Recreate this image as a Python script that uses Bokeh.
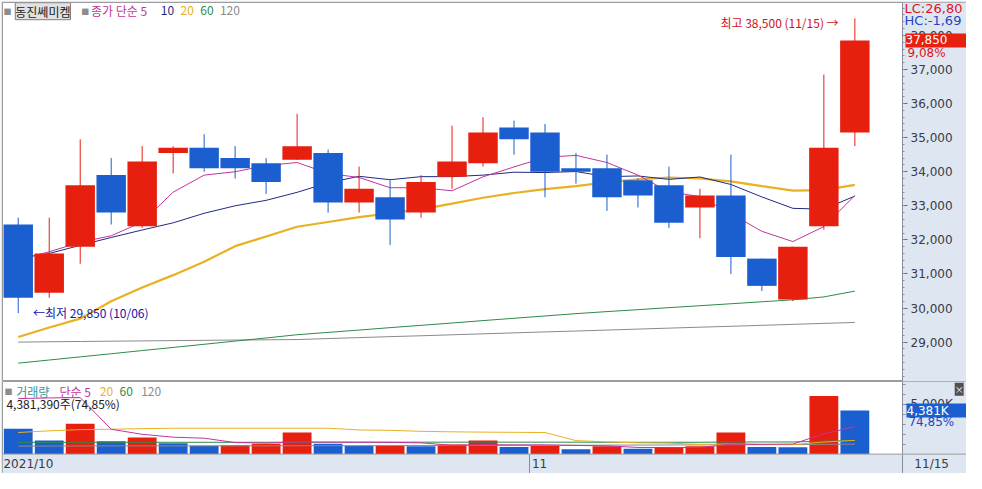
from bokeh.plotting import figure
from bokeh.models import (Range1d, FixedTicker, NumeralTickFormatter, Label, ColumnDataSource,
                          BoxAnnotation, Span, LinearAxis)
from bokeh.layouts import column
from bokeh.embed import file_html
from bokeh.resources import INLINE

# ---------------- data ----------------
DATES = ["10/06", "10/07", "10/08", "10/12", "10/13", "10/14", "10/15", "10/18", "10/19", "10/20",
         "10/21", "10/22", "10/25", "10/26", "10/27", "10/28", "10/29", "11/01", "11/02", "11/03",
         "11/04", "11/05", "11/08", "11/09", "11/10", "11/11", "11/12", "11/15"]
OPEN = [32450, 30450, 31800, 33900, 32400, 34550, 34700, 34400, 34250, 34350,
        34550, 33100, 33250, 32800, 33850, 34250, 35300, 35150, 34100, 34100,
        33750, 33600, 32950, 33300, 31450, 30250, 32400, 35150]
HIGH = [32650, 32650, 34950, 34400, 34750, 34750, 35100, 34750, 34400, 35700,
        34650, 34150, 33750, 33900, 35350, 35600, 35500, 35400, 34550, 34500,
        33800, 34150, 33500, 34500, 31450, 31800, 36850, 38500]
LOW = [29850, 30300, 31300, 32450, 32350, 33950, 34000, 33800, 33350, 34350,
       32800, 32800, 31850, 32650, 33500, 34150, 34500, 33250, 33650, 32850,
       32950, 32350, 32050, 31000, 30500, 30200, 32300, 34750]
CLOSE = [30300, 31600, 33600, 32800, 34300, 34700, 34100, 34100, 33700, 34750,
         33100, 33500, 32600, 33700, 34300, 35150, 34950, 34000, 34000, 33250,
         33300, 32500, 33300, 31500, 30650, 31800, 34700, 37850]
VOLUME = [2560000, 1360000, 3050000, 1300000, 1680000, 1100000, 850000, 880000, 1040000, 2170000,
          1040000, 810000, 820000, 800000, 970000, 1360000, 710000, 810000, 490000, 780000,
          550000, 710000, 780000, 2170000, 710000, 700000, 5853500, 4381390]

MA5 = [31420, 31650, 31930, 32120, 32520, 33400, 33900, 34000, 34180, 34270,
       33950, 33830, 33530, 33530, 33440, 33850, 34140, 34420, 34480, 34270,
       33900, 33410, 33270, 32770, 32250, 31950, 32390, 33300]
MA10 = [31460, 31600, 31840, 32070, 32290, 32500, 32780, 33000, 33160, 33395,
        33675, 33865, 33765, 33855, 33855, 33900, 33985, 33975, 34005, 33855,
        33875, 33775, 33845, 33625, 33260, 32925, 32900, 33285]
MA20 = [29150, 29430, 29690, 30200, 30600, 30965, 31360, 31815, 32100, 32385,
        32525, 32665, 32780, 32895, 33065, 33235, 33375, 33490, 33575, 33690,
        33775, 33830, 33800, 33715, 33575, 33445, 33460, 33615]
MA60 = [28383, 28474, 28567, 28658, 28752, 28843, 28936, 29030, 29121, 29217,
        29285, 29353, 29424, 29492, 29560, 29631, 29699, 29767, 29835, 29895,
        29952, 30011, 30068, 30125, 30184, 30241, 30326, 30496]
MA120 = [28999, 29010, 29018, 29027, 29035, 29044, 29052, 29061, 29067, 29075,
         29104, 29132, 29160, 29186, 29214, 29243, 29271, 29299, 29325, 29353,
         29382, 29410, 29438, 29464, 29492, 29521, 29549, 29577]

VOL_MA5 = [5580000, 5650000, 5680000, 2500000, 1990000, 1700000, 1600000, 1160000, 1110000, 1210000,
           1200000, 1190000, 1180000, 1130000, 890000, 950000, 930000, 930000, 870000, 830000,
           670000, 670000, 660000, 1000000, 980000, 1010000, 2040000, 2760000]
VOL_MA20 = [2170000, 2340000, 2460000, 2500000, 2560000, 2600000, 2600000, 2600000, 2600000, 2600000,
            2600000, 2430000, 2390000, 2290000, 2240000, 2210000, 2190000, 2170000, 1360000, 1230000,
            1130000, 1100000, 980000, 1030000, 980000, 960000, 1210000, 1380000]
VOL_MA60 = [1180000, 1180000, 1190000, 1190000, 1190000, 1190000, 1190000, 1190000, 1190000, 1200000,
            1200000, 1200000, 1200000, 1200000, 1200000, 1200000, 1200000, 1200000, 1200000, 1190000,
            1190000, 1190000, 1190000, 1220000, 1220000, 1220000, 1300000, 1360000]
VOL_MA120 = [810000, 810000, 815000, 820000, 820000, 825000, 830000, 830000, 835000, 840000,
             845000, 850000, 855000, 860000, 865000, 870000, 875000, 880000, 890000, 900000,
             910000, 920000, 930000, 940000, 950000, 960000, 980000, 1000000]

PRICE_TICKS = [29000, 30000, 31000, 32000, 33000, 34000, 35000, 36000, 37000, 38000]
PRICE_MINOR = list(range(27800, 39000, 200))
VOL_TICKS = [5000000]
VOL_MINOR = [1000000, 2000000, 3000000, 4000000, 5000000, 6000000, 7000000]

STOCK = "동진쎄미켐"
CHANGE_TXT = "9,08%"
LC_TXT = "LC:26,80"
HC_TXT = "HC:-1,69"
HIGH_TXT = "최고 38,500 (11/15) →"
LOW_TXT = "←최저 29,850 (10/06)"
VOL_TXT = "4,381,390주(74,85%)"
VOL_BOX_TXT = "4,381K"
VOL_PCT_TXT = "74,85%"

# ---------------- styles / layout ----------------
FONT = "Noto Sans CJK KR"
NUM_FONT = "DejaVu Sans"
UP = "#e61f0e"
DOWN = "#1b5ecf"
C5 = "#c2349e"
C10 = "#1f2a80"
C20 = "#eab020"
C60 = "#2e8b4a"
C120 = "#8a8a8a"
AXIS_BG = "#dde6f1"
FRAME_LINE = "#9c9c9c"
TICK_TXT = "#3a3a48"

W = 966
LEFT = 2
FRAME_W = W - LEFT
H1, H2 = 381, 92
KX = FRAME_W / 980.0
KY1 = (H1 - 2) / 392.0
KY2 = H2 / 95.0
STEP = 31.5          # reference pixels per candle
FIRST = 18.0         # reference x of first candle


def ix(X):
    return (X - FIRST) / STEP


def mx(X):
    return (X - 2) * KX


def my(Y):
    return (394 - Y) * KY1


def vy(Y):
    return (489 - Y) * KY2


X_RANGE = (ix(2), ix(982))
AXIS_X = ix(917)

xs = list(range(len(DATES)))
colors = [UP if c >= o else DOWN for o, c in zip(OPEN, CLOSE)]
src = ColumnDataSource(dict(x=xs, high=HIGH, low=LOW,
                            top=[max(o, c) for o, c in zip(OPEN, CLOSE)],
                            bottom=[min(o, c) for o, c in zip(OPEN, CLOSE)],
                            color=colors))

x_range = Range1d(*X_RANGE)


def style_axis(ax, ticks, minor):
    ax.ticker = FixedTicker(ticks=ticks, minor_ticks=minor)
    ax.major_label_text_font = NUM_FONT
    ax.major_label_text_font_size = "12px"
    ax.major_label_text_color = TICK_TXT
    ax.axis_line_color = "#8c8c9c"
    ax.major_tick_line_color = "#6c6c7c"
    ax.minor_tick_line_color = "#8c8c9c"
    ax.major_tick_in = 0
    ax.major_tick_out = 5
    ax.minor_tick_in = 0
    ax.minor_tick_out = 2
    ax.major_label_standoff = 3


def lab(fig, text, x, y, color, size="12px", xu="screen", yu="screen", align="left",
        font=FONT, **kw):
    fig.add_layout(Label(x=x, y=y, x_units=xu, y_units=yu, text=text, text_color=color,
                         text_font=font, text_font_size=size, text_align=align,
                         text_baseline="middle", **kw))


# ---------------- price panel ----------------
p = figure(width=W, height=H1, x_range=x_range, y_range=Range1d(27844, 38965),
           output_backend="svg", toolbar_location=None, x_axis_location=None,
           y_axis_location=None, min_border_left=LEFT, min_border_right=0,
           min_border_top=2, min_border_bottom=0, background_fill_color="white",
           border_fill_color=AXIS_BG, outline_line_color=FRAME_LINE)
p.grid.visible = False
p.add_layout(BoxAnnotation(left=AXIS_X, fill_color=AXIS_BG, fill_alpha=1.0, line_color=None,
                           level="underlay"))

p.line(xs, MA120, line_color=C120, line_width=1)
p.line(xs, MA60, line_color=C60, line_width=1)
p.line(xs, MA20, line_color=C20, line_width=2.2)
p.line(xs, MA10, line_color=C10, line_width=1)
p.line(xs, MA5, line_color=C5, line_width=1)

p.segment(x0="x", y0="low", x1="x", y1="high", line_color="color", line_width=1, source=src)
p.vbar(x="x", width=0.95, top="top", bottom="bottom", fill_color="color", line_color=None, source=src)

pax = LinearAxis(fixed_location=AXIS_X, formatter=NumeralTickFormatter(format="0,0"))
style_axis(pax, PRICE_TICKS, PRICE_MINOR)
p.add_layout(pax, "right")

# legend top-left
lab(p, "■", mx(3), my(11), "#8c8c8c", size="8px")
lab(p, STOCK, mx(15), my(11), "#202020", size="12px",
    background_fill_color="#e2e2e2", border_line_color="#808080")
lab(p, "■", mx(82), my(11), "#8c8c8c", size="8px")
lab(p, "종가 단순 5", mx(92), my(10), C5)
lab(p, "10", mx(163), my(10), C10)
lab(p, "20", mx(183), my(10), C20)
lab(p, "60", mx(203), my(10), C60)
lab(p, "120", mx(223), my(10), C120)

# high / low annotations
lab(p, HIGH_TXT, ix(852), 38390, "#d0101c", xu="data", yu="data", align="right")
lab(p, LOW_TXT, ix(33), 29880, "#1414a8", xu="data", yu="data")

# right axis info
lab(p, LC_TXT, mx(919), my(8), "#e0141e", size="13px", font=NUM_FONT)
lab(p, HC_TXT, mx(919), my(21), "#2246c0", size="13px", font=NUM_FONT)
lab(p, " " + "{:,}".format(CLOSE[-1]) + "        ", mx(920), CLOSE[-1], "white", size="12px",
    yu="data", font=NUM_FONT, background_fill_color="#e8200f")
lab(p, CHANGE_TXT, mx(922), my(54), "#e0141e", size="12px", font=NUM_FONT)

# ---------------- volume panel ----------------
q = figure(width=W, height=H2, x_range=x_range, y_range=Range1d(-1950000, 7300000),
           output_backend="svg", toolbar_location=None, x_axis_location=None,
           y_axis_location=None, min_border_left=LEFT, min_border_right=0,
           min_border_top=0, min_border_bottom=0, background_fill_color="white",
           border_fill_color=AXIS_BG, outline_line_color=FRAME_LINE)
q.grid.visible = False

q.add_layout(BoxAnnotation(top=0, fill_color=AXIS_BG, fill_alpha=1.0, line_color=None, level="underlay"))
q.add_layout(BoxAnnotation(left=AXIS_X, fill_color=AXIS_BG, fill_alpha=1.0, line_color=None,
                           level="underlay"))
q.add_layout(Span(location=0, dimension="width", line_color=FRAME_LINE, line_width=1))

vcolors = [DOWN] + [UP if b > a else DOWN for a, b in zip(VOLUME, VOLUME[1:])]
vsrc = ColumnDataSource(dict(x=xs, v=VOLUME, color=vcolors))
q.vbar(x="x", width=0.93, top="v", bottom=0, fill_color="color", line_color=None, source=vsrc)

q.line(xs, VOL_MA120, line_color=C120, line_width=1)
q.line(xs, VOL_MA60, line_color=C60, line_width=1)
q.line(xs, VOL_MA20, line_color=C20, line_width=1)
q.line(xs, VOL_MA5, line_color=C5, line_width=1)

# month separator in the date strip
month = [d.split("/")[0] for d in DATES]
seps = [i - 0.5 for i in range(1, len(DATES)) if month[i] != month[i - 1]]
q.segment(x0=seps, y0=[0] * len(seps), x1=seps, y1=[-1950000] * len(seps),
          line_color="#8c8c9c", line_width=1)

vax = LinearAxis(fixed_location=AXIS_X)
style_axis(vax, VOL_TICKS, VOL_MINOR)
vax.minor_tick_out = 3
vax.major_label_overrides = {5000000: "5,000K"}
q.add_layout(vax, "right")

lab(q, "■", mx(4), vy(404), "#8c8c8c", size="8px")
lab(q, "거래량", mx(16), vy(404), "#3a9494")
lab(q, "단순 5", mx(60), vy(404), C5)
lab(q, "20", mx(101), vy(404), C20)
lab(q, "60", mx(121), vy(404), C60)
lab(q, "120", mx(143), vy(404), C120)
lab(q, VOL_TXT, mx(6), vy(417), "#202020")

lab(q, " " + VOL_BOX_TXT + "        ", mx(921), VOLUME[-1], "white", size="12px", yu="data",
    font=NUM_FONT, background_fill_color="#1b5ecf")
lab(q, VOL_PCT_TXT, mx(923), vy(436), "#2246c0", size="12px", font=NUM_FONT)
lab(q, "×", mx(970), vy(402), "white", size="9px", background_fill_color="#505050")

# date strip labels
lab(q, "2021/10", ix(3), vy(479), TICK_TXT, xu="data", font=NUM_FONT)
lab(q, month[int(seps[0] + 0.5)], seps[0] + 0.08, vy(479), TICK_TXT, xu="data", font=NUM_FONT)
lab(q, DATES[-1], mx(929), vy(479), TICK_TXT, font=NUM_FONT)

layout = column(p, q)
open("out.html", "w").write(file_html(layout, INLINE))
